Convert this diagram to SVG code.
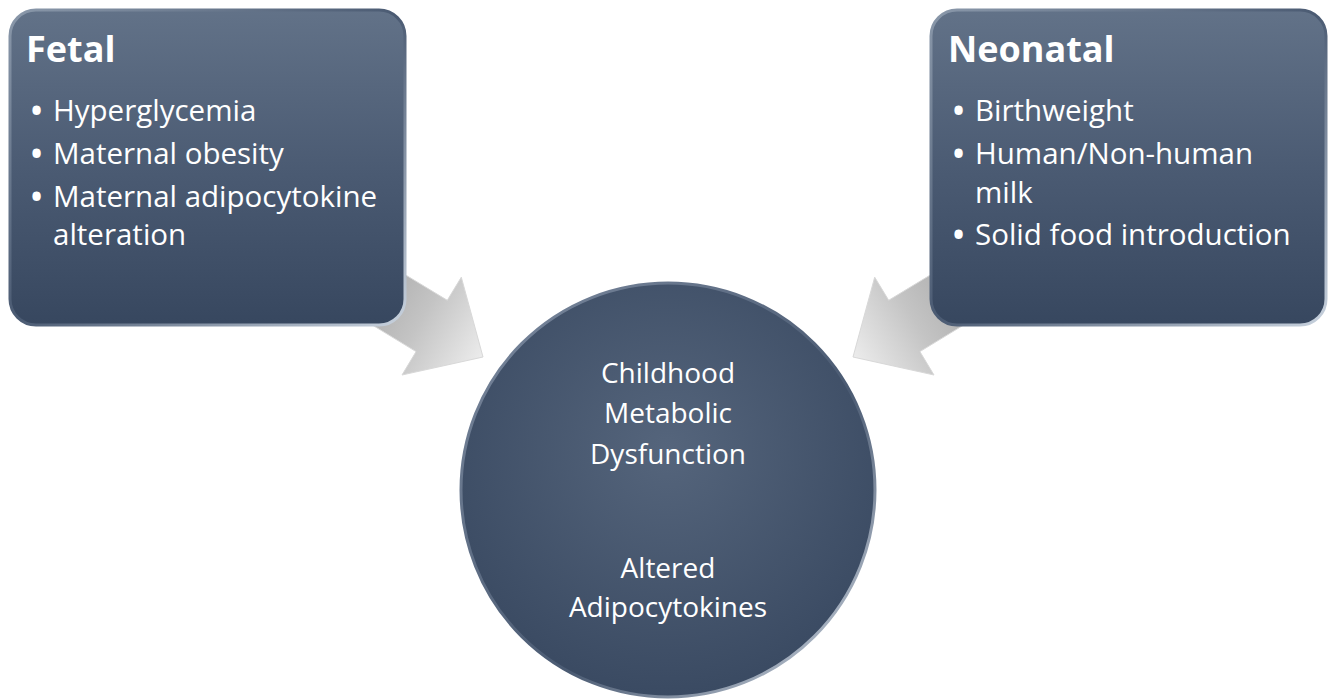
<svg xmlns="http://www.w3.org/2000/svg" width="1336" height="700" viewBox="0 0 1336 700">
<defs>
<style>
.title{font-family:"Open Sans",Lato,sans-serif;font-weight:bold;font-size:36px;fill:#ffffff}
.item{font-family:"Open Sans",Lato,sans-serif;font-size:29.5px;fill:#ffffff}
.bul{font-family:"Open Sans",Lato,sans-serif;font-size:29.5px;font-weight:bold;fill:#ffffff}
.ctr{font-family:"Open Sans",Lato,sans-serif;font-size:28px;fill:#ffffff;text-anchor:middle}
.box{fill:url(#boxFill);stroke:url(#edge);stroke-width:3}
.arrow{stroke:#d8d8d8;stroke-width:1}
</style>
<linearGradient id="boxFill" x1="0" y1="0" x2="0" y2="1">
<stop offset="0" stop-color="#627288"/>
<stop offset="0.5" stop-color="#4b5b73"/>
<stop offset="1" stop-color="#37475f"/>
</linearGradient>
<linearGradient id="edge" x1="0" y1="0" x2="1" y2="1">
<stop offset="0" stop-color="#8a98aa"/>
<stop offset="0.5" stop-color="#4a5a72"/>
<stop offset="1" stop-color="#c8d2de"/>
</linearGradient>
<radialGradient id="circFill" cx="0.5" cy="0.4" r="0.6">
<stop offset="0" stop-color="#55657c"/>
<stop offset="1" stop-color="#3a4a62"/>
</radialGradient>
<linearGradient id="circEdge" x1="0" y1="0" x2="1" y2="1">
<stop offset="0" stop-color="#7d8ba0"/>
<stop offset="0.6" stop-color="#4a5a72"/>
<stop offset="1" stop-color="#d6dee8"/>
</linearGradient>
<linearGradient id="arrL" gradientUnits="userSpaceOnUse" x1="330" y1="264" x2="483" y2="357">
<stop offset="0" stop-color="#9a9a9a"/>
<stop offset="0.6" stop-color="#c4c4c4"/>
<stop offset="1" stop-color="#ececec"/>
</linearGradient>
<linearGradient id="arrR" gradientUnits="userSpaceOnUse" x1="1006" y1="264" x2="853" y2="357">
<stop offset="0" stop-color="#9a9a9a"/>
<stop offset="0.6" stop-color="#c4c4c4"/>
<stop offset="1" stop-color="#ececec"/>
</linearGradient>
</defs>
<g id="connectors">
<polygon class="arrow" fill="url(#arrL)" points="344.7,237.9 447.3,300.3 461.3,277.2 483,357 402,375 416.1,351.6 313.5,289.3"/>
<polygon class="arrow" fill="url(#arrR)" points="991.3,237.9 888.7,300.3 874.7,277.2 853,357 934,375 919.9,351.6 1022.5,289.3"/>
</g>
<g id="fetal">
<rect class="box" x="10" y="10" width="395" height="315" rx="26"/>
<text class="title" x="26" y="62">Fetal</text>
<text class="bul" x="31" y="121">•</text><text class="item" x="53" y="121">Hyperglycemia</text>
<text class="bul" x="31" y="164">•</text><text class="item" x="53" y="164">Maternal obesity</text>
<text class="bul" x="31" y="207">•</text><text class="item" x="53" y="207">Maternal adipocytokine</text>
<text class="item" x="53" y="245">alteration</text>
</g>
<g id="neonatal">
<rect class="box" x="931" y="10" width="395" height="315" rx="26"/>
<text class="title" x="948" y="62">Neonatal</text>
<text class="bul" x="953" y="121">•</text><text class="item" x="975" y="121">Birthweight</text>
<text class="bul" x="953" y="164">•</text><text class="item" x="975" y="164">Human/Non-human</text>
<text class="item" x="975" y="203">milk</text>
<text class="bul" x="953" y="245">•</text><text class="item" x="975" y="245">Solid food introduction</text>
</g>
<g id="center">
<circle cx="668" cy="490" r="207" fill="url(#circFill)" stroke="url(#circEdge)" stroke-width="3"/>
<text class="ctr" x="668" y="383">Childhood</text>
<text class="ctr" x="668" y="423">Metabolic</text>
<text class="ctr" x="668" y="464">Dysfunction</text>
<text class="ctr" x="668" y="578">Altered</text>
<text class="ctr" x="668" y="617">Adipocytokines</text>
</g>
</svg>
